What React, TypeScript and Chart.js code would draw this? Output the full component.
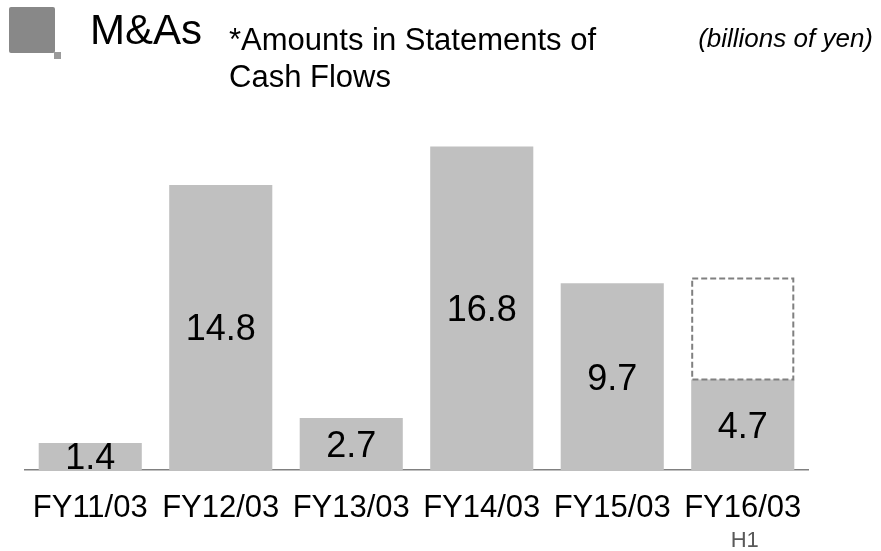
import React, { useEffect, useRef } from "react";
import { Chart, registerables } from "chart.js";

Chart.register(...registerables);

const categories = ["FY11/03", "FY12/03", "FY13/03", "FY14/03", "FY15/03", "FY16/03"];
const h1Values = [1.4, 14.8, 2.7, 16.8, 9.7, 4.7];
const forecastValues: (number | null)[] = [null, null, null, null, null, 10.0];
const subLabels = ["", "", "", "", "", "H1"];

const FONT = "'Liberation Sans', Arial, sans-serif";

const overlayPlugin = {
  id: "overlay",
  afterDatasetsDraw(chart: any) {
    const ctx = chart.ctx;
    const fMeta = chart.getDatasetMeta(0);
    const vMeta = chart.getDatasetMeta(1);
    forecastValues.forEach((v, i) => {
      if (v == null) return;
      const el = fMeta.data[i];
      const bar = vMeta.data[i];
      const half = el.width / 2;
      ctx.save();
      ctx.strokeStyle = "#808080";
      ctx.lineWidth = 2;
      ctx.setLineDash([6, 3]);
      ctx.strokeRect(el.x - half + 1, el.y + 1, el.width - 2, bar.y - el.y - 1);
      ctx.restore();
    });
    ctx.save();
    ctx.font = `36px ${FONT}`;
    ctx.fillStyle = "#000";
    ctx.textAlign = "center";
    ctx.textBaseline = "middle";
    vMeta.data.forEach((el: any, i: number) => {
      ctx.fillText(h1Values[i].toFixed(1), el.x, (el.y + el.base) / 2 + 3);
    });
    ctx.restore();
    const xs = chart.scales.x;
    ctx.save();
    ctx.font = `22px ${FONT}`;
    ctx.fillStyle = "#595959";
    ctx.textAlign = "center";
    ctx.textBaseline = "alphabetic";
    subLabels.forEach((s, i) => {
      if (!s) return;
      ctx.fillText(s, xs.getPixelForValue(i) + 2, 547);
    });
    ctx.restore();
  },
};

export default function App() {
  const ref = useRef<HTMLCanvasElement | null>(null);
  useEffect(() => {
    if (!ref.current) return;
    const chart = new Chart(ref.current, {
      type: "bar",
      data: {
        labels: categories,
        datasets: [
          {
            label: "Forecast",
            data: forecastValues as any,
            backgroundColor: "rgba(0,0,0,0)",
            borderWidth: 0,
            grouped: false,
            barPercentage: 0.79,
            categoryPercentage: 1,
          },
          {
            label: "M&As",
            data: h1Values,
            backgroundColor: "#c0c0c0",
            borderWidth: 0,
            grouped: false,
            barPercentage: 0.79,
            categoryPercentage: 1,
          },
        ],
      },
      options: {
        animation: false,
        responsive: false,
        maintainAspectRatio: false,
        layout: { padding: { top: 123.5, left: 25, right: 73, bottom: 0 } },
        plugins: { legend: { display: false }, tooltip: { enabled: false } },
        scales: {
          x: {
            z: 1,
            grid: { display: false, drawTicks: false },
            border: { display: true, color: "#808080", width: 1.5 },
            ticks: {
              color: "#000",
              font: { size: 31, family: FONT },
              padding: 20,
              maxRotation: 0,
              autoSkip: false,
            },
            afterFit: (scale: any) => {
              scale.height = 81;
            },
          },
          y: { display: false, min: 0, max: 18 },
        },
      },
      plugins: [overlayPlugin],
    });
    return () => chart.destroy();
  }, []);

  const textBase: React.CSSProperties = {
    position: "absolute",
    fontFamily: FONT,
    color: "#000",
    whiteSpace: "nowrap",
    margin: 0,
  };

  return (
    <div style={{ position: "absolute", left: 0, top: 0, width: 881, height: 551, background: "#fff", overflow: "hidden" }}>
      <canvas ref={ref} width={881} height={551} style={{ position: "absolute", left: 0, top: 0, width: 881, height: 551 }} />
      <div style={{ position: "absolute", left: 9, top: 7, width: 46, height: 46, background: "#888888", borderRadius: 2 }} />
      <div style={{ position: "absolute", left: 54, top: 52, width: 7, height: 7, background: "#9a9a9a" }} />
      <div style={{ ...textBase, left: 90, top: 8.5, fontSize: 42, lineHeight: "42px" }}>M&amp;As</div>
      <div style={{ ...textBase, left: 229, top: 20.7, fontSize: 31, lineHeight: "37px" }}>
        *Amounts in Statements of
        <br />
        Cash Flows
      </div>
      <div style={{ ...textBase, right: 8, top: 25, fontSize: 26, lineHeight: "26px", fontStyle: "italic" }}>(billions of yen)</div>
    </div>
  );
}
